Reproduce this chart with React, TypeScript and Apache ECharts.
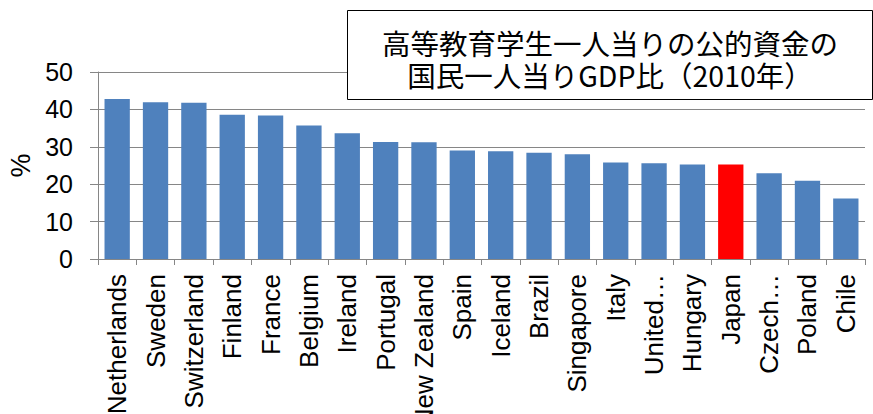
import React, { useEffect, useRef } from "react";
import * as echarts from "echarts";

const categories = [
  "Netherlands", "Sweden", "Switzerland", "Finland", "France", "Belgium", "Ireland",
  "Portugal", "New Zealand", "Spain", "Iceland", "Brazil", "Singapore", "Italy",
  "United…", "Hungary", "Japan", "Czech…", "Poland", "Chile",
];
const values = [
  42.8, 41.9, 41.8, 38.6, 38.4, 35.7, 33.6, 31.3, 31.2, 29.0, 28.8, 28.4, 28.0, 25.8,
  25.6, 25.3, 25.3, 22.9, 20.9, 16.2,
];
const highlight = "Japan";
const titleLines = ["高等教育学生一人当りの公的資金の", "国民一人当りGDP比（2010年）"];
const yAxisName = "%";

const FONT = "'Liberation Sans', Arial, sans-serif";

export default function App() {
  const ref = useRef<HTMLDivElement>(null);
  useEffect(() => {
    if (!ref.current) return;
    const chart = echarts.init(ref.current, undefined, { renderer: "svg" });
    chart.setOption({
      animation: false,
      grid: {
        left: 98,
        right: 8,
        top: 72,
        bottom: 155,
        containLabel: false,
        outerBoundsMode: "none",
      },
      xAxis: {
        type: "category",
        data: categories,
        axisLine: { lineStyle: { color: "#868686", width: 1 } },
        axisTick: { show: true, length: 6, lineStyle: { color: "#868686" } },
        axisLabel: {
          rotate: 90,
          interval: 0,
          margin: 15,
          fontSize: 26,
          fontFamily: FONT,
          color: "#000",
        },
      },
      yAxis: {
        type: "value",
        min: 0,
        max: 50,
        interval: 10,
        name: yAxisName,
        nameLocation: "middle",
        nameRotate: 90,
        nameGap: 64,
        nameTextStyle: { fontSize: 27, fontFamily: FONT, color: "#000" },
        axisLine: { show: true, lineStyle: { color: "#868686", width: 1 } },
        axisTick: { show: true, length: 8, lineStyle: { color: "#868686" } },
        splitLine: { show: true, lineStyle: { color: "#868686", width: 1 } },
        axisLabel: {
          margin: 25,
          fontSize: 25,
          fontFamily: FONT,
          color: "#000",
        },
      },
      series: [
        {
          type: "bar",
          barCategoryGap: "34%",
          data: values.map((v, i) => ({
            value: v,
            itemStyle: { color: categories[i] === highlight ? "#FF0000" : "#4F81BD" },
          })),
        },
      ],
      graphic: [
        {
          type: "rect",
          shape: { x: 347.5, y: 10.5, width: 525, height: 89 },
          style: { fill: "#fff", stroke: "#000", lineWidth: 1 },
          z: 100,
        },
        {
          type: "text",
          x: 610,
          y: 58,
          z: 101,
          style: {
            text: titleLines.join("\n"),
            fontSize: 28.5,
            lineHeight: 32,
            fontFamily: "'Noto Sans CJK JP', sans-serif",
            fill: "#000",
            align: "center",
            verticalAlign: "middle",
          },
        },
      ],
    });
    return () => chart.dispose();
  }, []);
  return (
    <div
      ref={ref}
      style={{ position: "fixed", left: 0, top: 0, width: 873, height: 414, background: "#fff" }}
    />
  );
}
